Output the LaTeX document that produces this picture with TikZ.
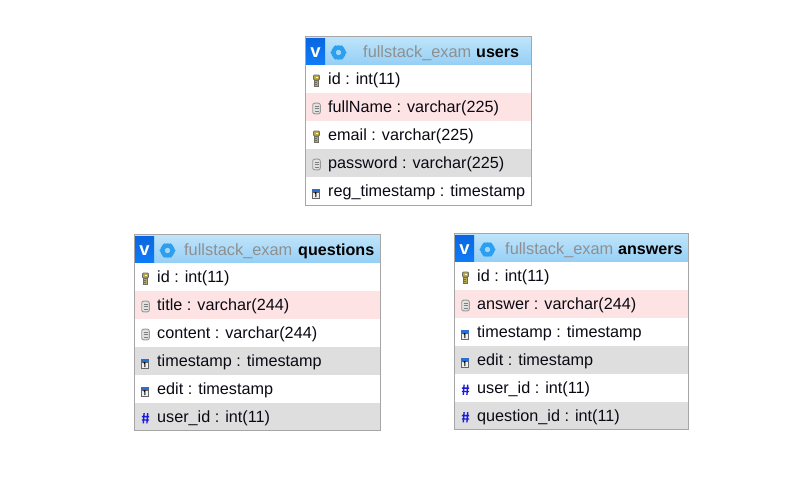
\documentclass[tikz,border=0pt]{standalone}
\usepackage{fontspec}
\setmainfont{Liberation Sans}
\definecolor{hdrtop}{HTML}{BFE4FB}
\definecolor{hdrbot}{HTML}{95CFF5}
\definecolor{vtop}{HTML}{0A66E0}
\definecolor{vbot}{HTML}{0F7CF8}
\definecolor{gearblue}{HTML}{2C9FEF}
\definecolor{pinkrow}{HTML}{FDE3E3}
\definecolor{grayrow}{HTML}{DEDEDE}
\definecolor{frameclr}{HTML}{A6A6A6}
\definecolor{dbname}{HTML}{8F8F8F}
\definecolor{rowtext}{HTML}{0A0A14}
\definecolor{keygold}{HTML}{B8A94A}
\definecolor{keygray}{HTML}{6E6E62}
\definecolor{idxgray}{HTML}{B4B4B4}
\definecolor{calblue}{HTML}{2A6FD0}
\definecolor{hashblue}{HTML}{1A1AE0}
\tikzset{
  x=1pt,y=-1pt,
  frame/.style={draw=frameclr,line width=1pt,fill=white},
  rowtxt/.style={anchor=base west,inner sep=0pt,font=\fontsize{16.2}{18}\selectfont,text=rowtext},
  titletxt/.style={anchor=base west,inner sep=0pt,font=\fontsize{16.35}{18}\selectfont},
}
% icons: #1 x centre, #2 y centre
\newcommand{\iconkey}[2]{%
  \begin{scope}[shift={(#1,#2)}]
    \fill[keygold,draw=keygray,line width=.8pt,rounded corners=1pt] (-3,-5.5) rectangle (3,-.5);
    \fill[keygold,draw=keygray,line width=.8pt] (-2,-.5) rectangle (2,5.5);
    \fill[white] (-1,-4) rectangle (1,-2.4);
    \draw[keygray,line width=.6pt] (-2,2) -- (.5,2) (-2,4) -- (.5,4);
  \end{scope}}
\newcommand{\iconidx}[2]{%
  \begin{scope}[shift={(#1,#2)}]
    \draw[idxgray!85!black,fill=idxgray!40,line width=.9pt,rounded corners=2pt] (-3.8,-5.4) rectangle (3.8,5.4);
    \draw[idxgray!70!black,line width=.8pt] (-2,-2.4) -- (2,-2.4) (-2,0) -- (2,0) (-2,2.4) -- (2,2.4);
  \end{scope}}
\newcommand{\iconcal}[2]{%
  \begin{scope}[shift={(#1-.8,#2+1)}]
    \fill[calblue] (-3.8,-5) rectangle (3.8,-1.6);
    \fill[black!6,draw=black!60,line width=.7pt] (-3.5,-1.6) rectangle (3.5,4.6);
    \draw[black,line width=1.1pt] (-1,-.4) -- (.2,-.9) -- (.2,3.6);
  \end{scope}}
\newcommand{\iconhash}[2]{%
  \draw[hashblue,line width=1.4pt] (#1-1.4,#2-4.8) -- (#1-2.2,#2+5.4) (#1+2.2,#2-4.8) -- (#1+1.4,#2+5.4)
     (#1-3.6,#2-1.4) -- (#1+3.6,#2-1.4) (#1-3.6,#2+2) -- (#1+3.6,#2+2);}
\newcommand{\tblhead}[8]{% name, x0, y0, x1, y1, dbname x, bold x, bold text
  \draw[frame] (#2,#3) rectangle (#4,#5);
  \shade[top color=hdrtop,bottom color=hdrbot] (#2+.5,#3+.5) rectangle (#4-.5,#3+28.5);
  \shade[top color=vtop,bottom color=vbot] (#2+.5,#3+1.5) rectangle (#2+19.5,#3+28.5);
  \node[inner sep=0pt,anchor=base,text=white,font=\fontsize{18.5}{18}\selectfont\bfseries] (#1v) at (#2+10,#3+21) {v};
  \fill[gearblue,even odd rule] (#2+33,#3+16) circle[radius=7.2] (#2+33,#3+16) circle[radius=2.6];
  \foreach \a in {0,60,...,300}{\fill[gearblue] (#2+33,#3+16) ++(\a:6.4) circle[radius=1.7];}
  \fill[hdrbot!70!hdrtop] (#2+33,#3+16) circle[radius=2.6];
  \node[titletxt,text=dbname] (#1db) at (#6,#3+20.5) {fullstack\_exam};
  \node[titletxt,text=black,font=\fontsize{16.1}{18}\selectfont\bfseries] (#1tb) at (#7,#3+20.5) {#8};
}
% row: node name, band colour, x0, x1, row top y, icon macro, text
\newcommand{\tblrow}[7]{%
  \fill[#2] (#3+.5,#5) rectangle (#4-.5,#5+28);
  #6{#3+11}{#5+15.5}%
  \node[rowtxt] (#1) at (#3+22.5,#5+19.5) {#7};
}
\begin{document}
\begin{tikzpicture}
\useasboundingbox (0,0) rectangle (810,501);
\fill[white] (0,0) rectangle (810,501);

% users
\tblhead{u}{305.5}{36.5}{531.5}{205.5}{363}{476}{users}
\tblrow{u1}{white}{305.5}{531.5}{65}{\iconkey}{id : int(11)}
\tblrow{u2}{pinkrow}{305.5}{531.5}{93}{\iconidx}{fullName : varchar(225)}
\tblrow{u3}{white}{305.5}{531.5}{121}{\iconkey}{email : varchar(225)}
\tblrow{u4}{grayrow}{305.5}{531.5}{149}{\iconidx}{password : varchar(225)}
\tblrow{u5}{white}{305.5}{531.5}{177}{\iconcal}{reg\_timestamp : timestamp}

% questions
\tblhead{q}{134.5}{234.5}{380.5}{430.5}{184}{298}{questions}
\tblrow{q1}{white}{134.5}{380.5}{263}{\iconkey}{id : int(11)}
\tblrow{q2}{pinkrow}{134.5}{380.5}{291}{\iconidx}{title : varchar(244)}
\tblrow{q3}{white}{134.5}{380.5}{319}{\iconidx}{content : varchar(244)}
\tblrow{q4}{grayrow}{134.5}{380.5}{347}{\iconcal}{timestamp : timestamp}
\tblrow{q5}{white}{134.5}{380.5}{375}{\iconcal}{edit : timestamp}
\tblrow{q6}{grayrow}{134.5}{380.5}{402.5}{\iconhash}{user\_id : int(11)}

% answers
\tblhead{a}{454.5}{233.5}{688.5}{429.5}{505}{618}{answers}
\tblrow{a1}{white}{454.5}{688.5}{262}{\iconkey}{id : int(11)}
\tblrow{a2}{pinkrow}{454.5}{688.5}{290}{\iconidx}{answer : varchar(244)}
\tblrow{a3}{white}{454.5}{688.5}{318}{\iconcal}{timestamp : timestamp}
\tblrow{a4}{grayrow}{454.5}{688.5}{346}{\iconcal}{edit : timestamp}
\tblrow{a5}{white}{454.5}{688.5}{374}{\iconhash}{user\_id : int(11)}
\tblrow{a6}{grayrow}{454.5}{688.5}{401.5}{\iconhash}{question\_id : int(11)}

% frames on top of bands
\draw[frameclr,line width=1pt] (305.5,36.5) rectangle (531.5,205.5);
\draw[frameclr,line width=1pt] (134.5,234.5) rectangle (380.5,430.5);
\draw[frameclr,line width=1pt] (454.5,233.5) rectangle (688.5,429.5);
\end{tikzpicture}
\end{document}
